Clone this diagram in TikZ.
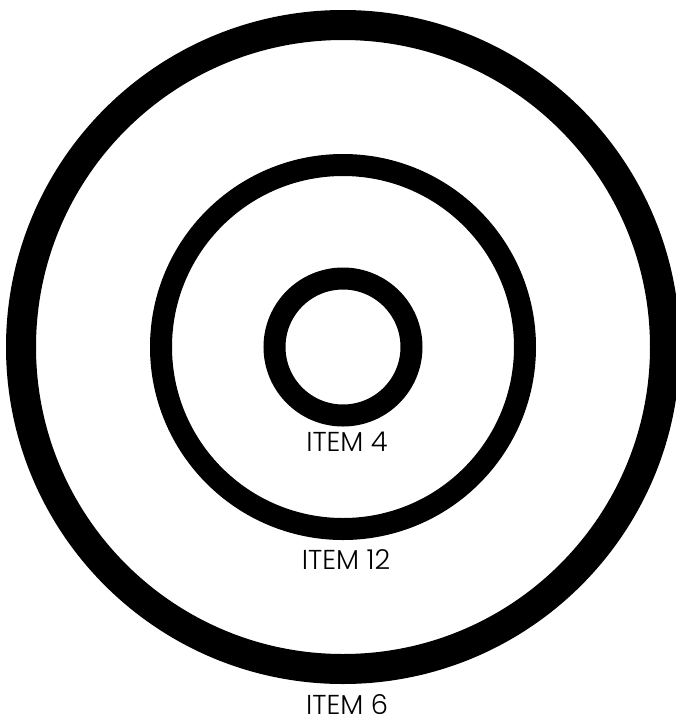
\documentclass[tikz,border=0pt]{standalone}
\usepackage{fontspec}
\newfontfamily\itemfont{Poppins Light}
\usetikzlibrary{positioning}

\begin{document}
\begin{tikzpicture}[
    x=0.75pt, y=0.75pt,
    ring/.style={circle,draw=black,fill=none,inner sep=0pt},
    itemlabel/.style={anchor=base,inner sep=0pt,font=\itemfont\fontsize{20.5}{22}\selectfont}
  ]
  \useasboundingbox (0,0) rectangle (676,-719);
  % Rings
  \node[ring,line width=22.5pt,minimum size=483pt]   (ring6)  at (343,-347) {};
  \node[ring,line width=16.5pt,minimum size=273pt]   (ring12) at (343,-347) {};
  \node[ring,line width=16.5pt,minimum size=102.75pt] (ring4) at (343,-347) {};
  % Labels
  \node[itemlabel] (lab4)  at (347,-451) {ITEM 4};
  \node[itemlabel] (lab12) at (346,-569) {ITEM 12};
  \node[itemlabel] (lab6)  at (347,-714) {ITEM 6};
\end{tikzpicture}
\end{document}
